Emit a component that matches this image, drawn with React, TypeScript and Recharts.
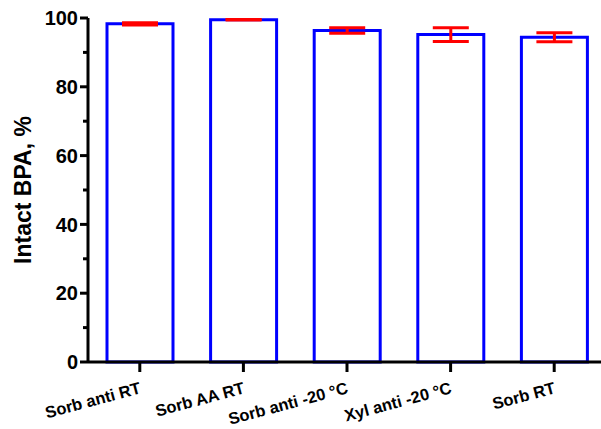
import React from "react";
import { BarChart, Bar, XAxis, YAxis, ErrorBar } from "recharts";

const categories = ["Sorb anti RT", "Sorb AA RT", "Sorb anti -20 °C", "Xyl anti -20 °C", "Sorb RT"];
const means = [98.3, 99.5, 96.4, 95.2, 94.4];
const errors = [0.3, 0.1, 0.8, 2.0, 1.3];
const yTicks = [0, 10, 20, 30, 40, 50, 60, 70, 80, 90, 100];

const data = categories.map((name, i) => ({ name, value: means[i], err: errors[i] }));

const FONT = "'Liberation Sans', Arial, sans-serif";

function YTick(props: any) {
  const { x, y, payload } = props;
  const major = payload.value % 20 === 0;
  const len = major ? 8 : 5;
  return (
    <g>
      <line x1={x} x2={x - len} y1={y} y2={y} stroke="#000" strokeWidth={3} />
      {major && (
        <text x={x - 10} y={y} dy="0.36em" textAnchor="end" fontFamily={FONT} fontWeight="bold" fontSize={20} fill="#000">
          {payload.value}
        </text>
      )}
    </g>
  );
}

function XTick(props: any) {
  const { x, y, payload } = props;
  const tx = x + 2;
  const ty = y + 31;
  return (
    <g>
      <line x1={x} x2={x} y1={y} y2={y + 10} stroke="#000" strokeWidth={3} />
      <text
        x={tx}
        y={ty}
        textAnchor="end"
        transform={`rotate(-15, ${tx}, ${ty})`}
        fontFamily={FONT}
        fontWeight="bold"
        fontSize={16.5}
        fill="#000"
      >
        {payload.value}
      </text>
    </g>
  );
}

function YLabel(props: any) {
  const vb = props.viewBox || { x: 0, y: 18, width: 88, height: 344 };
  const cx = 31;
  const cy = vb.y + vb.height / 2;
  return (
    <text
      x={cx}
      y={cy}
      textAnchor="middle"
      transform={`rotate(-90, ${cx}, ${cy})`}
      fontFamily={FONT}
      fontWeight="bold"
      fontSize={23}
      fill="#000"
    >
      Intact BPA, %
    </text>
  );
}

export default function App() {
  return (
    <div style={{ position: "fixed", left: 0, top: 0, width: 601, height: 429, overflow: "hidden", background: "#fff" }}>
      <BarChart width={610} height={429} data={data} margin={{ top: 18, right: 4, left: 0, bottom: 0 }}>
        <XAxis
          dataKey="name"
          height={67}
          tickLine={false}
          tickSize={0}
          tickMargin={0}
          tick={<XTick />}
          interval={0}
          axisLine={{ stroke: "#000", strokeWidth: 3 }}
        />
        <YAxis
          width={88}
          domain={[0, 100]}
          ticks={yTicks}
          interval={0}
          tickLine={false}
          tickSize={0}
          tickMargin={0}
          tick={<YTick />}
          axisLine={{ stroke: "#000", strokeWidth: 3 }}
          label={<YLabel />}
        />
        <Bar dataKey="value" fill="#fff" stroke="#0000ff" strokeWidth={3} barSize={66} isAnimationActive={false}>
          <ErrorBar dataKey="err" width={18} stroke="#ff0000" strokeWidth={3} isAnimationActive={false} />
        </Bar>
      </BarChart>
    </div>
  );
}
